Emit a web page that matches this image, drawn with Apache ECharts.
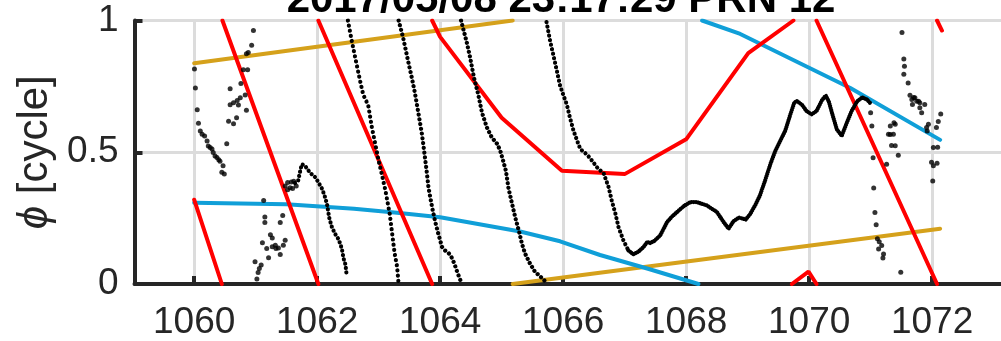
<!DOCTYPE html>
<html><head><meta charset="utf-8">
<script src="https://cdn.jsdelivr.net/npm/echarts@6/dist/echarts.min.js"></script>
<style>html,body{margin:0;padding:0;background:#fff}#c{width:1001px;height:341px}</style>
</head><body><div id="c"></div>
<script>
// ---------- text / ticks ----------
const titleText = '2017/05/08 23:17:29 PRN 12';
const yName = '{i|ϕ} [cycle]';
const xTicks = [1060, 1062, 1064, 1066, 1068, 1070, 1072];
const yTicks = [0, 0.5, 1];

// ---------- model lines (wrapped phase) ----------
const goldUp = [[1060.0, 0.838], [1065.18, 1.0]];
const goldLow = [[1065.18, 0.0], [1072.13, 0.210]];

const blueLow = [[1060.0, 0.308], [1061.5, 0.303], [1062.6, 0.286], [1063.3, 0.270], [1064.0, 0.253],
  [1065.3, 0.199], [1065.95, 0.162], [1066.6, 0.110], [1067.38, 0.058], [1068.2, 0.0]];
const blueUp = [[1068.26, 1.0], [1068.88, 0.949], [1070.67, 0.744], [1072.13, 0.547]];

const redA = [[1060.0, 0.32], [1060.45, 0.0]];
const redB = [[1060.46, 1.0], [1062.02, 0.0]];
const redC = [[1062.02, 1.0], [1063.87, 0.0]];
const redD = [[1063.87, 1.0], [1064.0, 0.938], [1065.0, 0.631], [1065.98, 0.430], [1067.0, 0.417],
  [1068.0, 0.549], [1069.01, 0.876], [1069.745, 1.0]];
const redE = [[1069.72, 0.0], [1069.99, 0.047], [1070.12, 0.0]];
const redF = [[1070.12, 1.0], [1072.08, 0.0]];
const redG = [[1072.08, 1.0], [1072.16, 0.962]];

// ---------- measured phase: dense dotted traces ----------
const dotS4 = [[1061.64, 0.383], [1061.69, 0.391], [1061.72, 0.424], [1061.75, 0.455], [1061.80, 0.449],
  [1061.86, 0.430], [1061.91, 0.417], [1061.97, 0.405], [1062.02, 0.386], [1062.08, 0.361], [1062.12, 0.336],
  [1062.16, 0.304], [1062.18, 0.274], [1062.20, 0.248], [1062.24, 0.216], [1062.29, 0.191], [1062.35, 0.169],
  [1062.40, 0.135], [1062.43, 0.097], [1062.46, 0.074], [1062.48, 0.034]];
const dotS5 = [[1062.50, 1.0], [1062.56, 0.926], [1062.62, 0.858], [1062.70, 0.769], [1062.75, 0.718],
  [1062.83, 0.679], [1062.89, 0.594], [1062.94, 0.537], [1063.00, 0.468], [1063.05, 0.418], [1063.11, 0.355],
  [1063.18, 0.266], [1063.22, 0.191], [1063.26, 0.116], [1063.30, 0.066], [1063.32, 0.012]];
const dotS6 = [[1063.325, 1.0], [1063.40, 0.933], [1063.48, 0.845], [1063.54, 0.782], [1063.59, 0.725],
  [1063.65, 0.644], [1063.70, 0.575], [1063.74, 0.505], [1063.78, 0.430], [1063.81, 0.367], [1063.87, 0.290],
  [1063.92, 0.236], [1063.97, 0.191], [1064.03, 0.141], [1064.08, 0.127], [1064.13, 0.120], [1064.18, 0.104],
  [1064.23, 0.078], [1064.28, 0.044], [1064.33, 0.014]];
const dotS7 = [[1064.34, 1.0], [1064.43, 0.920], [1064.49, 0.857], [1064.55, 0.783], [1064.62, 0.719],
  [1064.68, 0.651], [1064.76, 0.594], [1064.84, 0.556], [1064.93, 0.531], [1064.98, 0.504], [1065.03, 0.463],
  [1065.07, 0.429], [1065.11, 0.365], [1065.17, 0.304], [1065.22, 0.254], [1065.28, 0.202], [1065.33, 0.153],
  [1065.38, 0.116], [1065.46, 0.078], [1065.54, 0.047], [1065.63, 0.028], [1065.73, 0.006]];
const dotS8a = [[1065.73, 0.994], [1065.79, 0.920], [1065.84, 0.870], [1065.90, 0.807], [1065.95, 0.753],
  [1066.00, 0.719], [1066.06, 0.681], [1066.11, 0.632], [1066.17, 0.581], [1066.23, 0.542], [1066.28, 0.512],
  [1066.39, 0.491], [1066.47, 0.468], [1066.55, 0.443], [1066.66, 0.419], [1066.74, 0.367], [1066.79, 0.317],
  [1066.85, 0.267], [1066.90, 0.216], [1066.98, 0.165], [1067.06, 0.128]];
const dotS8b = [[1067.06, 0.128], [1067.14, 0.113], [1067.22, 0.122], [1067.31, 0.141], [1067.37, 0.160],
  [1067.41, 0.155], [1067.48, 0.163], [1067.58, 0.185], [1067.69, 0.235], [1067.77, 0.256], [1067.88, 0.279],
  [1067.97, 0.297], [1068.07, 0.311], [1068.17, 0.311], [1068.34, 0.298], [1068.50, 0.273], [1068.61, 0.235],
  [1068.69, 0.210], [1068.77, 0.238], [1068.86, 0.252], [1068.97, 0.245], [1069.04, 0.265], [1069.13, 0.302],
  [1069.20, 0.336], [1069.27, 0.383], [1069.37, 0.455], [1069.45, 0.505], [1069.53, 0.543], [1069.61, 0.581],
  [1069.69, 0.640], [1069.76, 0.689], [1069.80, 0.694], [1069.88, 0.681], [1069.96, 0.656], [1070.04, 0.644],
  [1070.12, 0.656], [1070.21, 0.698], [1070.27, 0.715], [1070.32, 0.693], [1070.37, 0.651], [1070.45, 0.587],
  [1070.53, 0.562], [1070.61, 0.610], [1070.69, 0.656], [1070.78, 0.693], [1070.86, 0.708], [1070.94, 0.700],
  [1071.0, 0.685]];

// ---------- measured phase: sparse points ----------
const sparseLeft = [[1060.005, 0.816], [1060.02, 0.744], [1060.05, 0.661], [1060.07, 0.610], [1060.10, 0.581],
  [1060.13, 0.568], [1060.17, 0.562], [1060.21, 0.543], [1060.23, 0.524], [1060.26, 0.518], [1060.29, 0.512],
  [1060.31, 0.499], [1060.34, 0.486], [1060.37, 0.480], [1060.40, 0.472], [1060.42, 0.466], [1060.47, 0.449],
  [1060.45, 0.424], [1060.49, 0.417]];
const sparseMidUp = [[1060.964, 0.962], [1060.935, 0.906], [1060.88, 0.879], [1060.85, 0.874], [1060.80, 0.813],
  [1060.87, 0.813], [1060.76, 0.761], [1060.585, 0.741], [1060.83, 0.717], [1060.75, 0.707], [1060.70, 0.696],
  [1060.64, 0.688], [1060.585, 0.680], [1060.72, 0.679], [1060.85, 0.659], [1060.69, 0.631], [1060.56, 0.618],
  [1060.64, 0.608], [1060.53, 0.532]];
const sparseMidLow = [[1061.13, 0.317], [1061.15, 0.254], [1061.15, 0.233], [1061.44, 0.260], [1061.40, 0.233],
  [1061.24, 0.187], [1061.27, 0.175], [1061.11, 0.157], [1061.18, 0.135], [1061.27, 0.141], [1061.32, 0.147],
  [1061.37, 0.137], [1061.45, 0.147], [1061.48, 0.166], [1061.33, 0.135], [1061.40, 0.112], [1061.21, 0.100],
  [1060.99, 0.084], [1061.09, 0.072], [1061.06, 0.059], [1061.04, 0.044], [1061.02, 0.019],
  [1061.48, 0.372], [1061.52, 0.385], [1061.56, 0.365], [1061.58, 0.387], [1061.62, 0.390], [1061.52, 0.358],
  [1061.60, 0.362], [1061.66, 0.372]];
const sparseRight = [[1071.00, 0.650], [1071.02, 0.600], [1071.04, 0.479], [1071.05, 0.364], [1071.07, 0.271],
  [1071.09, 0.225], [1071.11, 0.172], [1071.14, 0.160], [1071.18, 0.146], [1071.13, 0.133], [1071.21, 0.114],
  [1071.20, 0.099], [1071.49, 0.045],
  [1071.51, 0.954], [1071.54, 0.854], [1071.55, 0.826], [1071.54, 0.796], [1071.61, 0.763], [1071.64, 0.716],
  [1071.67, 0.700], [1071.70, 0.708], [1071.72, 0.707], [1071.68, 0.681], [1071.75, 0.694], [1071.78, 0.694],
  [1071.80, 0.688], [1071.80, 0.669], [1071.83, 0.650], [1071.88, 0.681], [1071.40, 0.606], [1071.32, 0.600],
  [1071.38, 0.612], [1071.29, 0.568], [1071.32, 0.567], [1071.37, 0.568], [1071.34, 0.526], [1071.40, 0.525],
  [1071.45, 0.489], [1071.26, 0.454], [1071.91, 0.594], [1071.94, 0.606], [1071.92, 0.581], [1072.07, 0.594],
  [1072.10, 0.617], [1072.14, 0.645], [1072.02, 0.518], [1072.09, 0.519], [1071.99, 0.462], [1072.08, 0.458],
  [1072.02, 0.449], [1072.01, 0.391]];

// ---------- chart ----------
const AX = '#262626';
const FONT = '"Liberation Sans", Arial, Helvetica, sans-serif';
const GRID = '#dcdcdc';
const GOLD = '#D5A11B', BLUE = '#109FD8', RED = '#FF0000';

function solid(data, color, z) {
  return { type: 'line', data: data, showSymbol: false, silent: true, z: z,
    lineStyle: { color: color, width: 4, cap: 'round' } };
}
function dotted(data, gap) {
  return { type: 'line', data: data, showSymbol: false, silent: true, z: 6,
    lineStyle: { color: '#000', width: 4.2, type: [0.01, gap], cap: 'round' } };
}
function pts(data) {
  return { type: 'scatter', data: data, symbolSize: 5, silent: true, z: 6,
    itemStyle: { color: '#000' } };
}

const chart = echarts.init(document.getElementById('c'), null, { renderer: 'canvas' });
chart.setOption({
  animation: false,
  backgroundColor: '#fff',
  graphic: [{
    type: 'text', x: 561, y: 0, silent: true,
    style: { text: titleText, align: 'center', verticalAlign: 'middle', fill: '#000',
      fontSize: 42, fontWeight: 'bold', fontFamily: FONT }
  }],
  grid: { left: 134.5, top: 20.5, right: 0, bottom: 55.3, containLabel: false },
  xAxis: {
    type: 'value', min: 1059.03, max: 1073.12,
    axisLine: { show: true, onZero: false, lineStyle: { color: AX, width: 4 } },
    axisTick: { show: true, inside: true, length: 8, customValues: xTicks, lineStyle: { color: AX, width: 4 } },
    axisLabel: { show: true, customValues: xTicks, fontSize: 37, color: AX, margin: 20, fontFamily: FONT,
      formatter: v => String(v) },
    splitLine: { show: true, lineStyle: { color: GRID, width: 3 } }
  },
  yAxis: {
    type: 'value', min: 0, max: 1, interval: 0.5,
    name: yName, nameLocation: 'middle', nameGap: 70, nameRotate: 90,
    nameTextStyle: { fontSize: 42, color: AX, fontFamily: FONT,
      rich: { i: { fontStyle: 'italic', fontSize: 42, color: AX, fontFamily: FONT } } },
    axisLine: { show: true, onZero: false, lineStyle: { color: AX, width: 4 } },
    axisTick: { show: true, inside: true, length: 8, lineStyle: { color: AX, width: 4 } },
    axisLabel: { fontSize: 37, color: AX, margin: 16, fontFamily: FONT, formatter: v => String(v) },
    splitLine: { show: true, lineStyle: { color: GRID, width: 3 } }
  },
  series: [
    solid(goldUp, GOLD, 2), solid(goldLow, GOLD, 2),
    solid(blueLow, BLUE, 3), solid(blueUp, BLUE, 3),
    solid(redA, RED, 4), solid(redB, RED, 4), solid(redC, RED, 4), solid(redD, RED, 4),
    solid(redE, RED, 4), solid(redF, RED, 4), solid(redG, RED, 4),
    dotted(dotS4, 4.4), dotted(dotS5, 5.2), dotted(dotS6, 4.8), dotted(dotS7, 4.6),
    dotted(dotS8a, 4.6), dotted(dotS8b, 2.2),
    pts(sparseLeft), pts(sparseMidUp), pts(sparseMidLow), pts(sparseRight)
  ]
});
</script></body></html>
